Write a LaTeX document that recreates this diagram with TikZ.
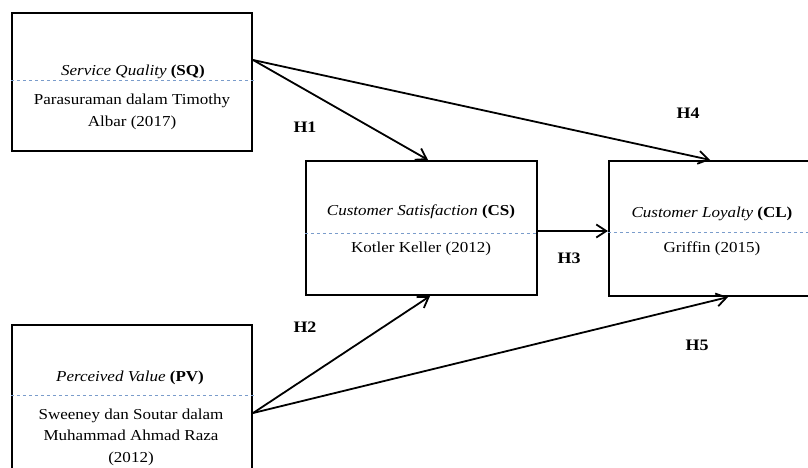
\documentclass[tikz,border=0pt]{standalone}
\usepackage{fontspec}
\setmainfont[FakeStretch=1.12]{Liberation Serif}
\usetikzlibrary{arrows.meta,positioning,calc}
\definecolor{sepBlue}{HTML}{7A9CCB}

\begin{document}
\begin{tikzpicture}[x=1pt,y=-1pt,>={Straight Barb[length=10pt,width=13pt]},
  box/.style={draw,line width=2.2pt,minimum width=#1,inner sep=0pt},
  ttl/.style={font=\fontsize{15.2}{18}\selectfont,inner sep=0pt},
  src/.style={font=\fontsize{15.2}{21.5}\selectfont,align=center,inner sep=0pt},
  sep/.style={draw=sepBlue,dashed,line width=0.6pt},
  hyp/.style={font=\fontsize{16}{18}\selectfont\bfseries,inner sep=0pt},
  lnk/.style={->,line width=1.8pt}]
  \useasboundingbox (0,0) rectangle (808,468);
  % variable boxes
  \node[box=240pt,minimum height=138pt] (sq) at (132,82) {};
  \node[box=231pt,minimum height=134pt] (cs) at (421.5,228) {};
  \node[box=206pt,minimum height=135pt] (cl) at (712,228.5) {};
  \node[box=240pt,minimum height=155pt] (pv) at (132,402.5) {};
  % separators
  \draw[sep] ($(sq.west)+(0,-2)$) -- ($(sq.east)+(3,-2)$);
  \draw[sep] ($(cs.west)+(0,5)$) -- ($(cs.east)+(0,5)$);
  \draw[sep] ($(cl.west)+(0,3.5)$) -- ($(cl.east)+(0,3.5)$);
  \draw[sep] ($(pv.west)+(0,-7.5)$) -- ($(pv.east)+(3,-7.5)$);
  % titles and sources
  \node[ttl] (sqt) at (133,72) {\textit{Service Quality} \textbf{(SQ)}};
  \node[src] (sqs) at (132,112) {Parasuraman dalam Timothy\\Albar (2017)};
  \node[ttl] (cst) at (421,212) {\textit{Customer Satisfaction} \textbf{(CS)}};
  \node[src] (css) at (421,249) {Kotler Keller (2012)};
  \node[ttl] (clt) at (712,214) {\textit{Customer Loyalty} \textbf{(CL)}};
  \node[src] (cls) at (712,249) {Griffin (2015)};
  \node[ttl] (pvt) at (130,378) {\textit{Perceived Value} \textbf{(PV)}};
  \node[src] (pvs) at (131,437) {Sweeney dan Soutar dalam\\Muhammad Ahmad Raza\\(2012)};
  % hypotheses
  \draw[lnk] ([yshift=22pt]sq.east) -- ([xshift=6.5pt]cs.north);
  \draw[lnk] ([yshift=22pt]sq.east) -- ([xshift=-2pt]cl.north);
  \draw[lnk] ([yshift=-10.5pt]pv.east) -- ([xshift=8.5pt]cs.south);
  \draw[lnk] ([yshift=-10.5pt]pv.east) -- ([xshift=16pt]cl.south);
  \draw[lnk] ([yshift=-3pt]cs.east) -- ([yshift=-3pt]cs.east -| cl.west);
  \node[hyp] (h1) at (305,127) {H1};
  \node[hyp] (h2) at (305,327) {H2};
  \node[hyp] (h3) at (569,258) {H3};
  \node[hyp] (h4) at (688,113) {H4};
  \node[hyp] (h5) at (697,345) {H5};
\end{tikzpicture}
\end{document}
